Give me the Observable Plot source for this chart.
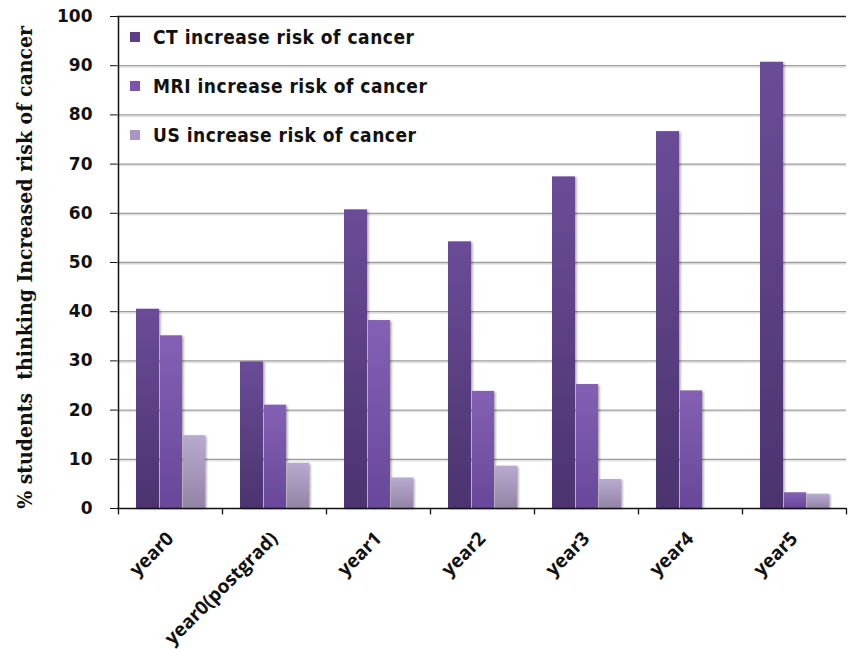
<!DOCTYPE html>
<html><head><meta charset="utf-8">
<script src="https://cdn.jsdelivr.net/npm/d3@7"></script>
<script src="https://cdn.jsdelivr.net/npm/@observablehq/plot@0.6"></script>
<style>
body{margin:0;background:#fff;}
#wrap{position:relative;width:849px;height:649px;overflow:hidden;}
#legend{position:absolute;left:130px;top:12px;font-family:"DejaVu Sans Condensed","DejaVu Sans",sans-serif;font-weight:bold;font-size:19px;letter-spacing:0.5px;color:#111;}
#legend .item{display:flex;align-items:center;height:49px;line-height:22px;}
#legend .sw{width:10px;height:10px;margin-right:13px;flex:none;}
</style></head><body><div id="wrap"></div>
<script>
const categories = ["year0","year0(postgrad)","year1","year2","year3","year4","year5"];
const series = ["CT increase risk of cancer","MRI increase risk of cancer","US increase risk of cancer"];
const ctValues = [40.5, 29.8, 60.7, 54.2, 67.4, 76.6, 90.7];
const mriValues = [35.1, 21.0, 38.2, 23.8, 25.2, 23.9, 3.2];
const usValues = [14.8, 9.2, 6.2, 8.6, 5.9, 0, 2.9];
const yTicks = [0,10,20,30,40,50,60,70,80,90,100];
const yTitle = "% students  thinking Increased risk of cancer";
const legendColors = ["#5c3f88","#7b55ad","#a797c2"];

const valuesBySeries = [ctValues, mriValues, usValues];
const table = [];
series.forEach((s, si) => categories.forEach((c, ci) => table.push({category: c, series: s, value: valuesBySeries[si][ci]})));

const defs = () => {
  const d = d3.create("svg:defs");
  const grads = [["gCT","#6a4c97","#4c336f"],["gMRI","#8360b4","#68489a"],["gUS","#b8aad0","#9384a6"]];
  for (const [id, top, bot] of grads) {
    const g = d.append("linearGradient").attr("id", id).attr("x1",0).attr("y1",0).attr("x2",0).attr("y2",1);
    g.append("stop").attr("offset","0%").attr("stop-color", top);
    g.append("stop").attr("offset","100%").attr("stop-color", bot);
  }
  const f = d.append("filter").attr("id","shadow").attr("x","-20%").attr("y","-5%").attr("width","150%").attr("height","115%");
  f.append("feDropShadow").attr("dx",1.5).attr("dy",1).attr("stdDeviation",1.2).attr("flood-color","#000").attr("flood-opacity",0.35);
  return d.node();
};

const half = 52;
const insets = [[18, 63], [42, 40], [65, 17]];
const fills = ["url(#gCT)","url(#gMRI)","url(#gUS)"];

const plot = Plot.plot({
  width: 849,
  height: 649,
  marginLeft: 117,
  marginRight: 3,
  marginTop: 16,
  marginBottom: 141,
  x: {domain: categories, padding: 0, axis: null},
  y: {domain: [0, 100], axis: null},
  marks: [
    defs,
    Plot.ruleY(yTicks.slice(1, -1), {stroke: "#e4e4e4", strokeWidth: 1.5, dy: 1.5}),
    Plot.ruleY(yTicks.slice(1, -1), {stroke: "#9d9d9d", strokeWidth: 1.3}),
    ...series.map((s, si) => Plot.barY(table.filter(d => d.series === s), {
      x: "category", y: "value", fill: fills[si],
      insetLeft: insets[si][0], insetRight: insets[si][1],
      filter: d => d.value > 0
    })),
    Plot.ruleY([100], {stroke: "#222", strokeWidth: 1.5}),
    Plot.ruleY([0], {stroke: "#111", strokeWidth: 1.5}),
    Plot.ruleX([categories[0]], {dx: -half, y1: 0, y2: 100, stroke: "#111", strokeWidth: 1.5}),
    Plot.ruleX(categories, {dx: -half, y1: 0, y2: -1.3, stroke: "#111", strokeWidth: 1.3}),
    Plot.ruleX([categories[categories.length - 1]], {dx: half, y1: 0, y2: -1.3, stroke: "#111", strokeWidth: 1.3}),
    Plot.axisY({ticks: yTicks, tickSize: 7, tickPadding: 18, fontSize: 17, fontWeight: "bold", fontFamily: "DejaVu Sans, sans-serif", label: null, stroke: "#111", color: "#111"}),
    Plot.axisX({tickSize: 0, tickRotate: -45, tickPadding: 27, fontSize: 19, fontWeight: "bold", fontFamily: "Open Sans, sans-serif", label: null, color: "#111"}),
    Plot.text([yTitle], {text: d => d, frameAnchor: "left", textAnchor: "middle", rotate: -90, dx: -92, dy: 5, fontSize: 21, fontWeight: "bold", fontFamily: "DejaVu Serif Condensed, Liberation Serif, serif", fill: "#111"})
  ]
});
plot.querySelectorAll("g[aria-label='bar']").forEach(g => g.setAttribute("filter", "url(#shadow)"));
const wrap = document.getElementById("wrap");
wrap.appendChild(plot);
const legend = document.createElement("div");
legend.id = "legend";
series.forEach((s, i) => {
  const it = document.createElement("div");
  it.className = "item";
  const sw = document.createElement("span");
  sw.className = "sw";
  sw.style.background = legendColors[i];
  const tx = document.createElement("span");
  tx.textContent = s;
  it.appendChild(sw); it.appendChild(tx);
  legend.appendChild(it);
});
wrap.appendChild(legend);
</script></body></html>
